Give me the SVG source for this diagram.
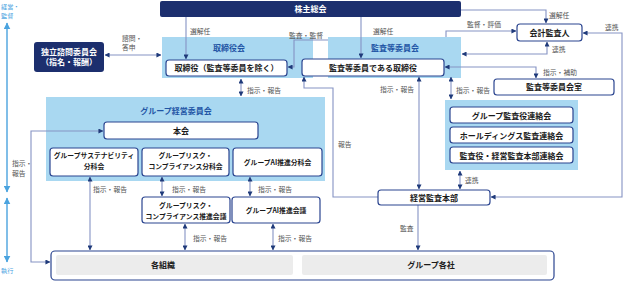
<svg xmlns="http://www.w3.org/2000/svg" width="624" height="281" viewBox="0 0 624 281">
<style>
text{font-family:"Noto Sans CJK JP","Noto Sans",sans-serif}
.dk{fill:#1c2f6e}
.wt{fill:#fff;font-size:8px;font-weight:bold;text-anchor:middle}
.rg{fill:#a9d8f1}
.bx{fill:#fff;stroke:#2b4590;stroke-width:1.2}
.bt{fill:#1a1a1a;font-size:8px;font-weight:bold;text-anchor:middle}
.st{fill:#1a1a1a;font-size:6.8px;font-weight:bold;text-anchor:middle}
.tt{fill:#1f55a5;font-size:8px;font-weight:bold;text-anchor:middle}
.lb{fill:#555;font-size:6.8px}
.ax{fill:#4aa3df;font-size:6.2px}
.gr{fill:#ececec}
.cn{fill:none;stroke:#8593c4;stroke-width:1.1}
.axl{stroke:#4aa3df;stroke-width:1.4}
</style>
<defs>
<marker id="ar" viewBox="0 0 6 6" refX="5.5" refY="3" markerWidth="5" markerHeight="5" markerUnits="userSpaceOnUse" orient="auto-start-reverse"><path d="M0,0 L6,3 L0,6 z" fill="#1f3a7a"/></marker>
<marker id="ab" viewBox="0 0 6 6" refX="5.5" refY="3" markerWidth="7" markerHeight="7" markerUnits="userSpaceOnUse" orient="auto-start-reverse"><path d="M0,0 L6,3 L0,6 z" fill="#4aa3df"/></marker>
</defs>

<g id="axis">
<text class="ax" x="1" y="9">経営・</text>
<text class="ax" x="1" y="18">監督</text>
<line class="axl" x1="7" y1="23" x2="7" y2="192" marker-start="url(#ab)" marker-end="url(#ab)"/>
<line class="axl" x1="7" y1="198" x2="7" y2="262" marker-start="url(#ab)" marker-end="url(#ab)"/>
<text class="ax" x="1" y="273">執行</text>
</g>

<g id="regions">
<rect class="rg" x="162" y="37" width="151" height="41"/>
<rect class="rg" x="328" y="37" width="133" height="41"/>
<rect class="rg" x="46" y="97" width="279" height="84"/>
<rect class="rg" x="445" y="100" width="133" height="70"/>
</g>

<g id="connectors">
<line class="cn" x1="105" y1="55" x2="161" y2="55" marker-start="url(#ar)" marker-end="url(#ar)"/>
<line class="cn" x1="186" y1="17" x2="186" y2="59" marker-end="url(#ar)"/>
<line class="cn" x1="361" y1="17" x2="361" y2="58" marker-end="url(#ar)"/>
<polyline class="cn" points="461,10 546,10 546,23" marker-end="url(#ar)"/>
<polyline class="cn" points="446,37 446,31 516,31" marker-end="url(#ar)"/>
<polyline class="cn" points="462,54 547,54 547,42" marker-start="url(#ar)" marker-end="url(#ar)"/>
<polyline class="cn" points="445,67 536,67 536,78" marker-start="url(#ar)" marker-end="url(#ar)"/>
<polyline class="cn" points="583,33 622,33 622,197 491,197" marker-start="url(#ar)" marker-end="url(#ar)"/>
<polyline class="cn" points="328,40 294,40 294,67 288,67" marker-end="url(#ar)"/>
<line class="cn" x1="241" y1="79" x2="241" y2="96" marker-start="url(#ar)" marker-end="url(#ar)"/>
<polyline class="cn" points="378,197 333,197 333,88 304,88 304,77" marker-end="url(#ar)"/>
<line class="cn" x1="419" y1="77" x2="419" y2="189" marker-start="url(#ar)" marker-end="url(#ar)"/>
<line class="cn" x1="451" y1="77" x2="451" y2="99" marker-start="url(#ar)" marker-end="url(#ar)"/>
<line class="cn" x1="460" y1="171" x2="460" y2="189" marker-start="url(#ar)" marker-end="url(#ar)"/>
<line class="cn" x1="418" y1="205" x2="418" y2="250" marker-end="url(#ar)"/>
<line class="cn" x1="90" y1="177" x2="90" y2="250" marker-start="url(#ar)" marker-end="url(#ar)"/>
<line class="cn" x1="162" y1="177" x2="162" y2="196" marker-start="url(#ar)" marker-end="url(#ar)"/>
<line class="cn" x1="250" y1="177" x2="250" y2="196" marker-start="url(#ar)" marker-end="url(#ar)"/>
<line class="cn" x1="185" y1="224" x2="185" y2="250" marker-start="url(#ar)" marker-end="url(#ar)"/>
<line class="cn" x1="273" y1="224" x2="273" y2="250" marker-start="url(#ar)" marker-end="url(#ar)"/>
<polyline class="cn" points="103,131 31,131 31,262 50,262" marker-start="url(#ar)" marker-end="url(#ar)"/>
</g>

<g id="labels">
<text class="lb" x="122" y="41">諮問・</text>
<text class="lb" x="122" y="50">答申</text>
<text class="lb" x="190" y="34">選解任</text>
<text class="lb" x="373" y="34">選解任</text>
<text class="lb" x="549" y="18">選解任</text>
<text class="lb" x="467" y="27">監督・評価</text>
<text class="lb" x="289" y="38">監査・監督</text>
<text class="lb" x="552" y="52">連携</text>
<text class="lb" x="543" y="75">指示・補助</text>
<text class="lb" x="605" y="30">連携</text>
<text class="lb" x="247" y="93">指示・報告</text>
<text class="lb" x="414" y="92" text-anchor="end">指示・報告</text>
<text class="lb" x="456" y="93">指示・報告</text>
<text class="lb" x="338" y="147">報告</text>
<text class="lb" x="465" y="183">連携</text>
<text class="lb" x="400" y="231">監査</text>
<text class="lb" x="93" y="192">指示・報告</text>
<text class="lb" x="172" y="192">指示・報告</text>
<text class="lb" x="258" y="192">指示・報告</text>
<text class="lb" x="193" y="241">指示・報告</text>
<text class="lb" x="278" y="241">指示・報告</text>
<text class="lb" x="12" y="166">指示・</text>
<text class="lb" x="12" y="176">報告</text>
</g>

<g id="n-shareholders">
<rect class="dk" x="160" y="1" width="301" height="16" rx="2"/>
<text class="wt" x="310.5" y="12">株主総会</text>
</g>
<g id="n-advisory">
<rect class="dk" x="34" y="42" width="70" height="30" rx="3"/>
<text class="wt" x="69" y="55">独立諮問委員会</text>
<text class="wt" x="69" y="65">（指名・報酬）</text>
</g>
<g id="n-board">
<text class="tt" x="229" y="51">取締役会</text>
<rect class="bx" x="166" y="60" width="121" height="16" rx="3"/>
<text class="bt" x="226.5" y="71">取締役（監査等委員を除く）</text>
</g>
<g id="n-audit-committee">
<text class="tt" x="395" y="51">監査等委員会</text>
<rect class="bx" x="302" y="59" width="142" height="17" rx="3"/>
<text class="bt" x="373" y="71">監査等委員である取締役</text>
</g>
<g id="n-accountant">
<rect class="bx" x="517" y="24" width="65" height="17" rx="3"/>
<text class="bt" x="549.5" y="36">会計監査人</text>
</g>
<g id="n-office">
<rect class="bx" x="494" y="79" width="120" height="16" rx="3"/>
<text class="bt" x="554" y="90">監査等委員会室</text>
</g>
<g id="n-audit-meetings">
<rect class="bx" x="450" y="107" width="123" height="16" rx="3"/>
<text class="bt" x="511.5" y="118.5">グループ監査役連絡会</text>
<rect class="bx" x="450" y="127" width="123" height="16" rx="3"/>
<text class="bt" x="511.5" y="138.5">ホールディングス監査連絡会</text>
<rect class="bx" x="450" y="147" width="123" height="16" rx="3"/>
<text class="bt" x="511.5" y="158.5">監査役・経営監査本部連絡会</text>
</g>
<g id="n-gmc">
<text class="tt" x="176" y="114">グループ経営委員会</text>
<rect class="bx" x="104" y="122" width="154" height="17" rx="3"/>
<text class="bt" x="181" y="134">本会</text>
</g>
<g id="n-sus">
<rect class="bx" x="50" y="148" width="88" height="28" rx="3"/>
<text class="st" x="94" y="158">グループサステナビリティ</text>
<text class="st" x="94" y="169">分科会</text>
</g>
<g id="n-risk">
<rect class="bx" x="142" y="148" width="87" height="28" rx="3"/>
<text class="st" x="185.5" y="158">グループリスク・</text>
<text class="st" x="185.5" y="169">コンプライアンス分科会</text>
</g>
<g id="n-ai">
<rect class="bx" x="233" y="148" width="89" height="28" rx="3"/>
<text class="st" x="277.5" y="164.5">グループAI推進分科会</text>
</g>
<g id="n-risk-promo">
<rect class="bx" x="142" y="197" width="88" height="26" rx="3"/>
<text class="st" x="186" y="208">グループリスク・</text>
<text class="st" x="186" y="219">コンプライアンス推進会議</text>
</g>
<g id="n-ai-promo">
<rect class="bx" x="232" y="197" width="88" height="26" rx="3"/>
<text class="st" x="276" y="213">グループAI推進会議</text>
</g>
<g id="n-internal-audit">
<rect class="bx" x="378" y="190" width="112" height="15" rx="3"/>
<text class="bt" x="434" y="201">経営監査本部</text>
</g>
<g id="n-execution">
<rect class="bx" x="51" y="251" width="503" height="29" rx="4"/>
<rect class="gr" x="56" y="255" width="237" height="20" rx="2"/>
<text class="bt" x="163" y="268">各組織</text>
<rect class="gr" x="302" y="255" width="245" height="20" rx="2"/>
<text class="bt" x="431" y="268">グループ各社</text>
</g>
</svg>
